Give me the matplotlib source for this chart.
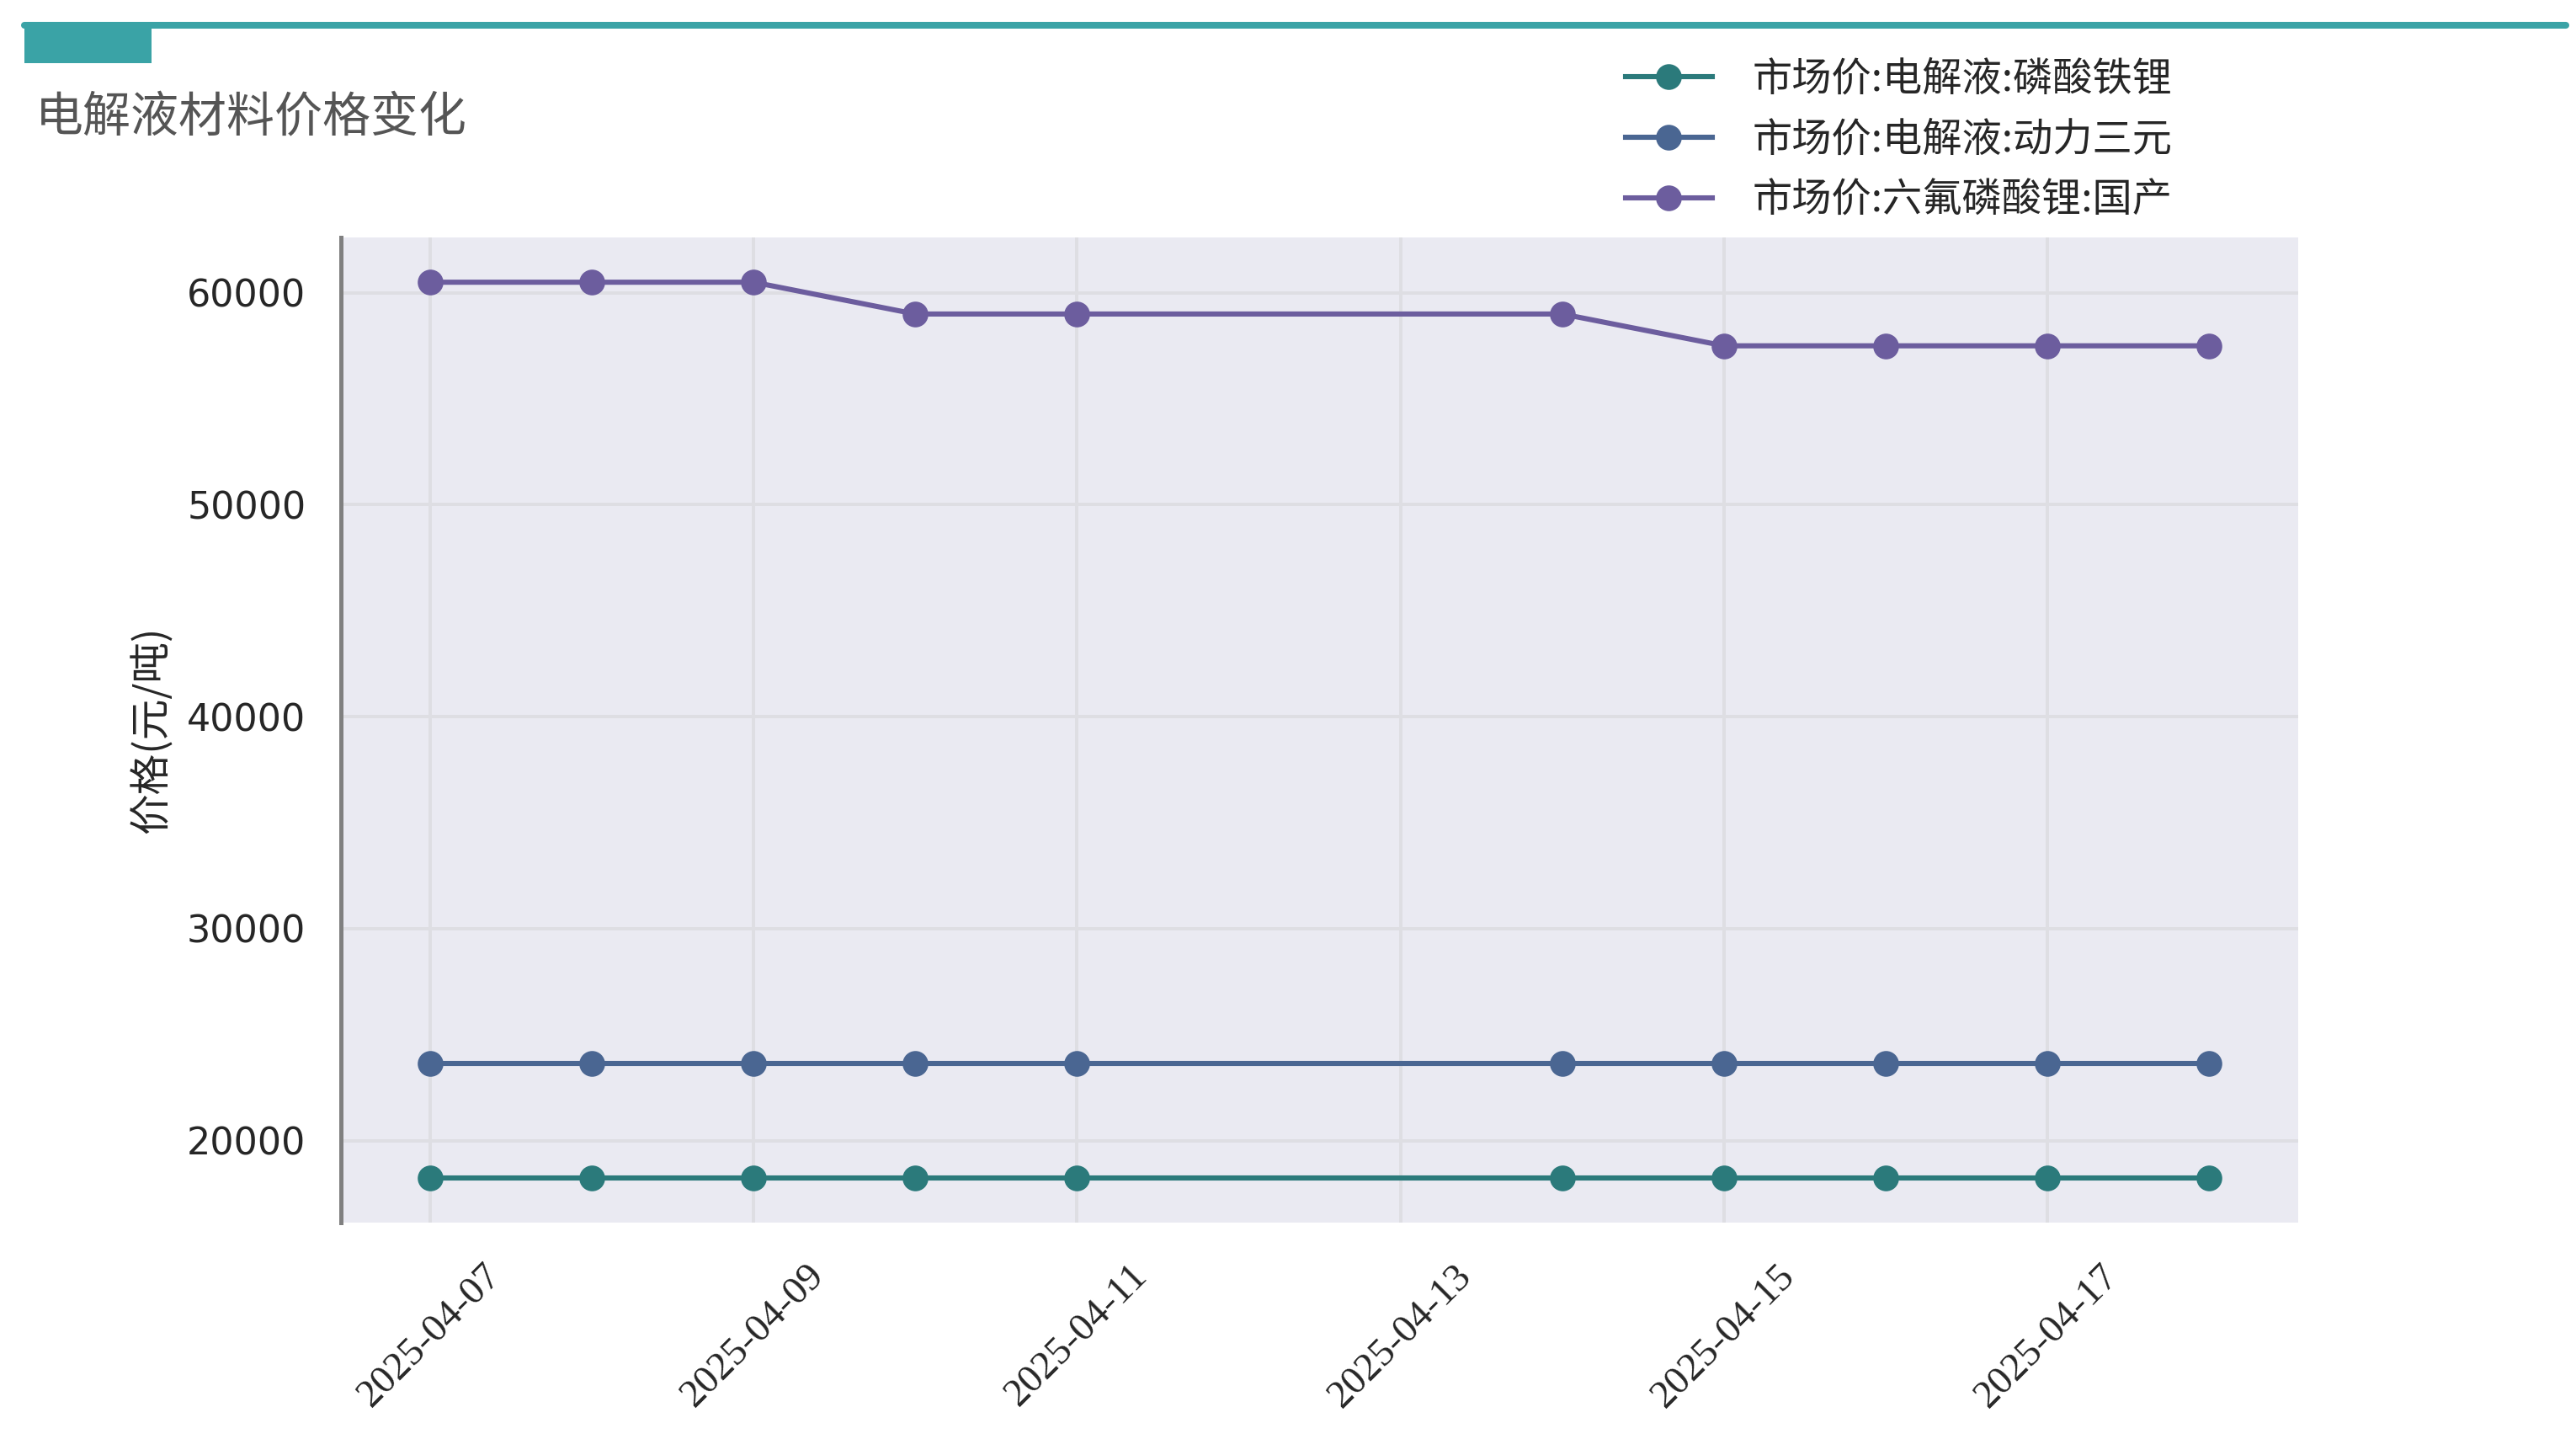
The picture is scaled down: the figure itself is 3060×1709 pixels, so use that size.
import matplotlib
matplotlib.use("Agg")
import matplotlib.pyplot as plt
import matplotlib.dates as mdates
from matplotlib.patches import Rectangle
from matplotlib.lines import Line2D
import pandas as pd

dates = ["2025-04-07", "2025-04-08", "2025-04-09", "2025-04-10", "2025-04-11",
         "2025-04-14", "2025-04-15", "2025-04-16", "2025-04-17", "2025-04-18"]
lfp = [18250, 18250, 18250, 18250, 18250, 18250, 18250, 18250, 18250, 18250]
ncm = [23650, 23650, 23650, 23650, 23650, 23650, 23650, 23650, 23650, 23650]
lipf6 = [60500, 60500, 60500, 59000, 59000, 59000, 57500, 57500, 57500, 57500]
names = ["市场价:电解液:磷酸铁锂", "市场价:电解液:动力三元", "市场价:六氟磷酸锂:国产"]
colors = ["#2B7A7B", "#4A6692", "#6C5D9E"]
tick_dates = ["2025-04-07", "2025-04-09", "2025-04-11", "2025-04-13", "2025-04-15", "2025-04-17"]

cjk = ["Noto Sans CJK SC", "DejaVu Sans"]
x = pd.to_datetime(dates)

fig = plt.figure(figsize=(15.3, 8.545), dpi=200)
ax = fig.add_axes([0.1324, 0.1504, 0.7598, 0.6846])
ax.set_facecolor("#EAEAF2")

for vals, name, c in zip([lfp, ncm, lipf6], names, colors):
    ax.plot(x, vals, color=c, linewidth=2.2, marker="o", markersize=10, label=name)

ax.grid(True, color="#DEDEE3", linewidth=1.4)
ax.set_axisbelow(True)
for s in ["top", "right", "bottom"]:
    ax.spines[s].set_visible(False)
ax.spines["left"].set_color("#808080")
ax.spines["left"].set_linewidth(1.8)

ax.set_xticks(pd.to_datetime(tick_dates))
ax.xaxis.set_major_formatter(mdates.DateFormatter("%Y-%m-%d"))
ax.tick_params(axis="both", length=0)
ax.tick_params(axis="y", labelsize=16, pad=15, labelcolor="#262626")
ax.tick_params(axis="x", pad=15)
for lab in ax.get_xticklabels():
    lab.set_rotation(45)
    lab.set_fontfamily("Liberation Serif")
    lab.set_fontsize(17)
    lab.set_color("#262626")

ax.set_ylabel("价格(元/吨)", family=cjk, fontsize=17.5, color="#262626", labelpad=6)

leg = fig.legend(loc="upper left", bbox_to_anchor=(0.617, 0.984), frameon=False,
                 prop={"family": cjk, "size": 17}, handlelength=2.2,
                 handletextpad=1.0, labelspacing=0.5)
for t in leg.get_texts():
    t.set_color("#262626")

fig.text(0.0137, 1 - 140 / 1709, "电解液材料价格变化", family=cjk, fontsize=20.5,
         color="#555555", va="center", ha="left")

# header decoration
fig.add_artist(Rectangle((29 / 3060, 1 - 75 / 1709), 151 / 3060, 49 / 1709,
                         transform=fig.transFigure, color="#3AA3A6", lw=0))
fig.add_artist(Line2D([29 / 3060, 3048 / 3060], [1 - 30 / 1709, 1 - 30 / 1709],
                      transform=fig.transFigure, color="#3AA3A6", linewidth=2.9,
                      solid_capstyle="round"))

fig.savefig("out.png", dpi=200)
